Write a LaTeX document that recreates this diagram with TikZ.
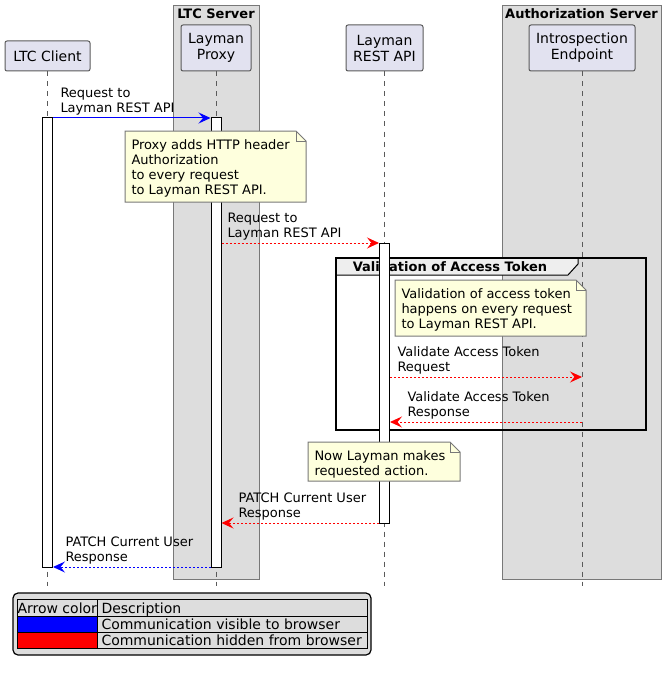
\documentclass[tikz,border=0pt]{standalone}
\usepackage{fontspec}
\setmainfont{DejaVu Sans}
\usetikzlibrary{arrows.meta, positioning}
\definecolor{partfill}{RGB}{226, 226, 240}
\definecolor{partline}{RGB}{90, 90, 90}
\definecolor{grayline}{RGB}{120, 120, 120}
\definecolor{groupfill}{RGB}{221, 221, 221}
\definecolor{notefill}{RGB}{254, 255, 221}
\definecolor{noteline}{RGB}{120, 120, 120}
\definecolor{tabfill}{RGB}{238, 238, 238}
\definecolor{visblue}{RGB}{0, 0, 255}
\definecolor{hidred}{RGB}{255, 0, 0}
\tikzset{
  participant/.style={
    draw=partline,
    fill=partfill,
    rounded corners=2pt,
    align=center,
    inner sep=0pt,
    font=\fontsize{14}{16}\selectfont
  },
  groupbox/.style={
    draw=grayline,
    fill=groupfill
  },
  grouptitle/.style={
    inner sep=0pt,
    font=\fontsize{13}{15}\selectfont\bfseries
  },
  lifeline/.style={
    draw=partline,
    line width=0.8pt,
    dash pattern=on 5pt off 5pt
  },
  actbar/.style={
    draw=black,
    fill=white,
    minimum width=10pt,
    inner sep=0pt
  },
  msgtext/.style={
    anchor=south west,
    inner sep=0pt,
    align=left,
    font=\fontsize{13}{15}\selectfont
  },
  notebox/.style={
    draw=noteline,
    fill=notefill
  },
  notetext/.style={
    anchor=north west,
    inner xsep=6pt,
    inner ysep=8.5pt,
    align=left,
    font=\fontsize{13}{15}\selectfont
  },
  msgvis/.style={
    -{Stealth[length=12pt, width=11pt, inset=4.5pt]},
    draw=visblue
  },
  msghid/.style={
    -{Stealth[length=12pt, width=11pt, inset=4.5pt]},
    draw=hidred,
    dash pattern=on 2pt off 2pt
  },
  legendtext/.style={
    anchor=base west,
    inner sep=0pt,
    font=\fontsize{14}{16}\selectfont
  }
}

\begin{document}
\begin{tikzpicture}[x=1pt, y=-1pt, line width=1pt]
  \useasboundingbox (0,0) rectangle (666,674);

  % boxes around participants
  \draw[groupbox] (173,6) rectangle (259,579);
  \node[grouptitle] (ltcsrv) at (216,14) {LTC Server};
  \draw[groupbox] (502,6) rectangle (661,579);
  \node[grouptitle] (authsrv) at (581.5,14) {Authorization Server};

  % group frame
  \draw[fill=tabfill] (336,258) -- (578,258) -- (578,264) -- (568,275) -- (336,275) -- cycle;
  \draw[line width=1.5pt] (336,258) rectangle (646,430);
  \node[grouptitle] (valtitle) at (450,267) {Validation of Access Token};

  % participants and lifelines
  \node[participant, minimum width=85, minimum height=30] (client) at (47.5,56) {LTC Client};
  \node[participant, minimum width=70, minimum height=46] (proxy) at (216,48) {Layman\\Proxy};
  \node[participant, minimum width=77, minimum height=46] (restapi) at (384.5,48) {Layman\\REST API};
  \node[participant, minimum width=106, minimum height=46] (intro) at (582,48) {Introspection\\Endpoint};
  \coordinate (bot) at (0,586);
  \foreach \p in {client, proxy, restapi, intro}
    \draw[lifeline] (\p.south) -- (\p.south |- bot);

  % activations
  \node[actbar, minimum height=449] (actclient) at (47.5,342.5) {};
  \node[actbar, minimum height=449] (actproxy) at (216,342.5) {};
  \node[actbar, minimum height=280] (actrest) at (384.5,383) {};

  % notes
  \draw[notebox] (125,131) -- (296,131) -- (306,141) -- (306,202) -- (125,202) -- cycle;
  \draw[noteline] (296,131) -- (296,141) -- (306,141);
  \node[notetext] (noteproxy) at (125,131) {Proxy adds HTTP header\\Authorization\\to every request\\to Layman REST API.};
  \draw[notebox] (395,280) -- (576,280) -- (586,290) -- (586,336) -- (395,336) -- cycle;
  \draw[noteline] (576,280) -- (576,290) -- (586,290);
  \node[notetext] (notetoken) at (395,280) {Validation of access token\\happens on every request\\to Layman REST API.};
  \draw[notebox] (308,442) -- (450,442) -- (460,452) -- (460,481) -- (308,481) -- cycle;
  \draw[noteline] (450,442) -- (450,452) -- (460,452);
  \node[notetext] (noteaction) at (308,442) {Now Layman makes\\requested action.};

  % messages
  \coordinate (r1) at (0,118);
  \coordinate (r2) at (0,243);
  \coordinate (r3) at (0,377);
  \coordinate (r4) at (0,422);
  \coordinate (r5) at (0,523);
  \coordinate (r6) at (0,567);
  \draw[msgvis] (actclient.east |- r1) -- (actproxy.west |- r1);
  \node[msgtext] (m1) at (60,116) {Request to\\Layman REST API};
  \draw[msghid] (actproxy.east |- r2) -- (actrest.west |- r2);
  \node[msgtext] (m2) at (227,241) {Request to\\Layman REST API};
  \draw[msghid] (actrest.east |- r3) -- (intro.south |- r3);
  \node[msgtext] (m3) at (397,375) {Validate Access Token\\Request};
  \draw[msghid] (intro.south |- r4) -- (actrest.east |- r4);
  \node[msgtext] (m4) at (407,420) {Validate Access Token\\Response};
  \draw[msghid] (actrest.west |- r5) -- (actproxy.east |- r5);
  \node[msgtext] (m5) at (238,521) {PATCH Current User\\Response};
  \draw[msgvis, dash pattern=on 2pt off 2pt] (actproxy.west |- r6) -- (actclient.east |- r6);
  \node[msgtext] (m6) at (65,565) {PATCH Current User\\Response};

  % legend
  \draw[fill=groupfill, rounded corners=5pt, line width=1.2pt] (13,593) rectangle (371,655);
  \fill[visblue] (17,616) rectangle (97,632);
  \fill[hidred] (17,632) rectangle (97,648);
  \draw (17,599) rectangle (367,648);
  \draw (17,616) -- (367,616);
  \draw (17,632) -- (367,632);
  \draw (97,599) -- (97,648);
  \node[legendtext] (legcolor) at (17,613) {Arrow color};
  \node[legendtext] (legdesc) at (101,613) {Description};
  \node[legendtext] (legvis) at (101,629) {Communication visible to browser};
  \node[legendtext] (leghid) at (101,645) {Communication hidden from browser};
\end{tikzpicture}
\end{document}
